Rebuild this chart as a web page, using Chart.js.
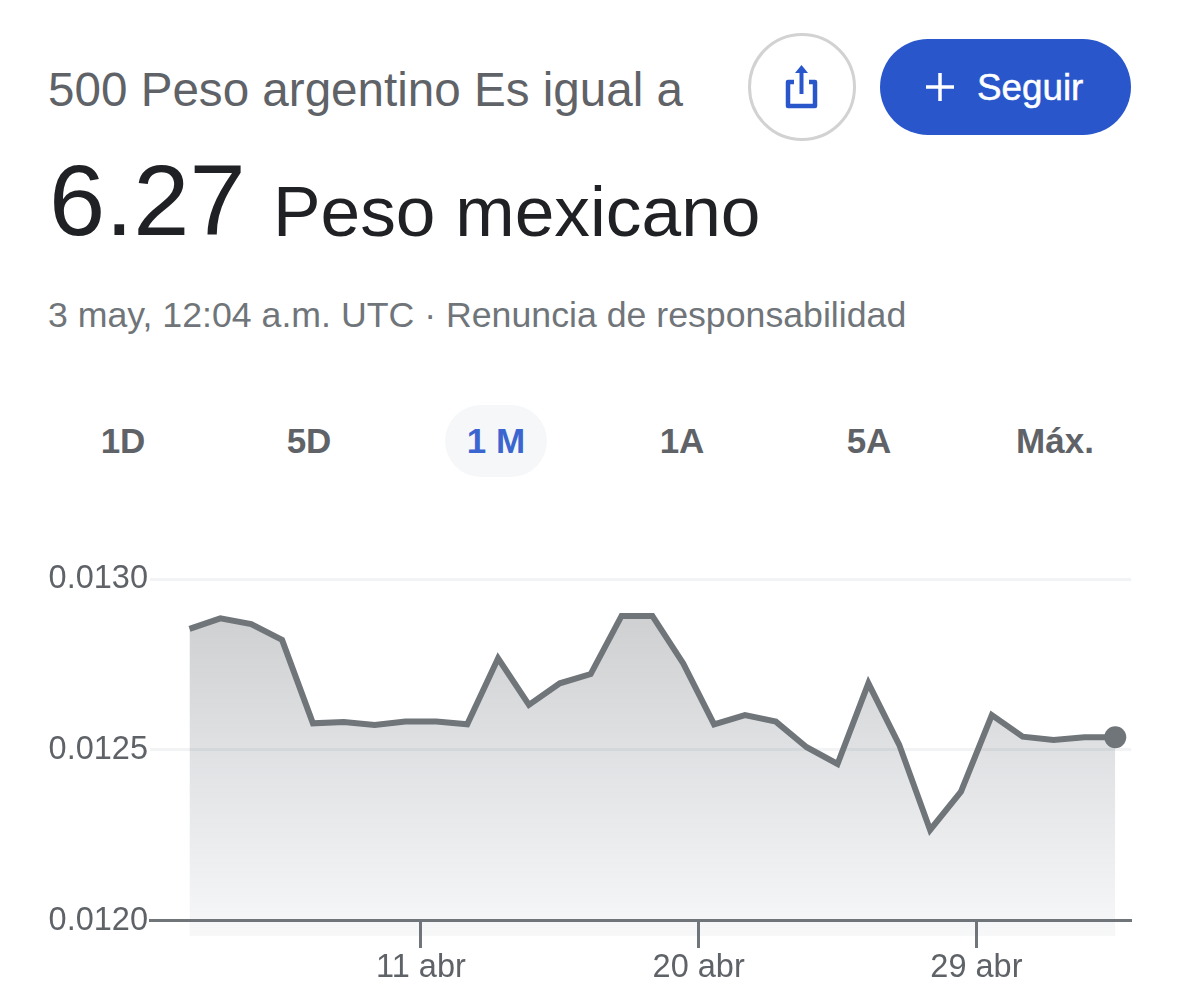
<!DOCTYPE html>
<html>
<head>
<meta charset="utf-8">
<title>500 Peso argentino</title>
<script src="https://cdn.jsdelivr.net/npm/chart.js@4"></script>
<style>
  html, body { margin: 0; padding: 0; background: #fff; }
  body { width: 1179px; height: 1007px; position: relative; overflow: hidden; font-family: "Liberation Sans", sans-serif; }
  .txt { position: absolute; white-space: nowrap; line-height: 1; }
  .tab { position: absolute; top: 424px; transform: translateX(-50%); font-size: 35px; line-height: 34px; font-weight: bold; color: #5f6368; white-space: nowrap; }
  #pill { position: absolute; left: 445px; top: 405px; width: 102px; height: 72px; border-radius: 36px; background: #f6f7f9; }
  #share { position: absolute; left: 748px; top: 33px; width: 108px; height: 108px; box-sizing: border-box; border: 3px solid #d2d2d2; border-radius: 50%; }
  #follow { position: absolute; left: 880px; top: 39px; width: 251px; height: 96px; border-radius: 48px; background: #2957cb; color: #fff; }
  #cv { position: absolute; left: 0; top: 540px; }
</style>
</head>
<body>
<div class="txt" style="left:48px;top:66px;font-size:47.6px;color:#5f6368">500 Peso argentino Es igual a</div>
<div class="txt" style="left:49px;top:150px;font-size:101px;color:#202124">6.27</div>
<div class="txt" style="left:273px;top:176px;font-size:71.3px;color:#202124">Peso mexicano</div>
<div class="txt" style="left:48px;top:298px;font-size:35.7px;color:#70757a">3 may, 12:04 a.m. UTC · Renuncia de responsabilidad</div>

<div id="share">
  <svg width="102" height="102" viewBox="0 0 102 102" style="position:absolute;left:0;top:0">
    <path d="M43 46 H37 V70 H64 V46 H58" fill="none" stroke="#2957cb" stroke-width="4.5" stroke-linejoin="round"/>
    <path d="M50.5 58 V34" fill="none" stroke="#2957cb" stroke-width="4"/>
    <path d="M44 37 L50.5 29 L57 37 Z" fill="#2957cb"/>
  </svg>
</div>
<div id="follow">
  <svg width="40" height="40" viewBox="0 0 40 40" style="position:absolute;left:40px;top:28px">
    <path d="M20 6 V34 M6 20 H34" stroke="#fff" stroke-width="3.5" fill="none"/>
  </svg>
  <div class="txt" style="left:97px;top:31px;font-size:36.8px;-webkit-text-stroke:0.5px #fff">Seguir</div>
</div>

<div id="pill"></div>
<div class="tab" style="left:123px">1D</div>
<div class="tab" style="left:309px">5D</div>
<div class="tab" style="left:496px;color:#3c66cf">1 M</div>
<div class="tab" style="left:682px">1A</div>
<div class="tab" style="left:869px">5A</div>
<div class="tab" style="left:1055px">Máx.</div>

<canvas id="cv" width="1179" height="460"></canvas>

<script>
// day of the period for each sample (day 11 = 11 abr, past 30 = mayo)
var days = [3.5, 4.5, 5.5, 6.5, 7.5, 8.5, 9.5, 10.5, 11.5, 12.5, 13.5, 14.5, 15.5, 16.5, 17.5, 18.5,
  19.5, 20.5, 21.5, 22.5, 23.5, 24.5, 25.5, 26.5, 27.5, 28.5, 29.5, 30.5, 31.5, 32.5, 33.5];
var rates = [0.012854, 0.012885, 0.012868, 0.012822, 0.012578, 0.012582, 0.012573, 0.012583,
  0.012583, 0.012575, 0.012768, 0.012632, 0.012695, 0.012722, 0.012892, 0.012892,
  0.012753, 0.012575, 0.012602, 0.012583, 0.012508, 0.012459, 0.012695, 0.012515,
  0.012266, 0.012378, 0.012602, 0.012539, 0.012529, 0.012537, 0.012537];
var tickDays = [11, 20, 29];
var tickLabels = ['11 abr', '20 abr', '29 abr'];
var yTicks = [0.0120, 0.0125, 0.0130];

var points = days.map(function (d, i) { return { x: d, y: rates[i] }; });
var gris = '#70757a';

var myChart = new Chart(document.getElementById('cv'), {
  type: 'line',
  data: {
    datasets: [{
      data: points,
      borderColor: gris,
      borderWidth: 6,
      tension: 0,
      borderJoinStyle: 'miter',
      fill: { value: 0.011956 },
      backgroundColor: function (c) {
        var area = c.chart.chartArea;
        if (!area) return 'rgba(112,117,122,0.3)';
        var g = c.chart.ctx.createLinearGradient(0, area.top + 37, 0, area.bottom);
        g.addColorStop(0, 'rgba(95,99,104,0.30)');
        g.addColorStop(1, 'rgba(95,105,125,0.05)');
        return g;
      },
      pointRadius: function (c) { return c.dataIndex === days.length - 1 ? 11 : 0; },
      pointBackgroundColor: gris,
      pointBorderWidth: 0
    }]
  },
  options: {
    responsive: false,
    animation: false,
    layout: { padding: { top: 39, right: 48, left: 0, bottom: 64 } },
    plugins: { legend: { display: false }, title: { display: false }, tooltip: { enabled: false } },
    scales: {
      x: {
        type: 'linear',
        position: { y: 0.0120 },
        min: 2.22,
        max: 34.01,
        afterBuildTicks: function (s) { s.ticks = tickDays.map(function (v) { return { value: v }; }); },
        border: { color: gris, width: 3 },
        grid: { drawOnChartArea: false, tickColor: gris, tickWidth: 3, tickLength: 26 },
        ticks: {
          autoSkip: false,
          maxRotation: 0,
          padding: 2,
          color: '#5f6368',
          font: { family: 'Liberation Sans', size: 32.5 },
          callback: function (v) { return tickLabels[tickDays.indexOf(v)]; }
        }
      },
      y: {
        min: 0.011956,
        max: 0.0130,
        afterFit: function (s) { s.width = 150; },
        afterBuildTicks: function (s) { s.ticks = yTicks.map(function (v) { return { value: v }; }); },
        border: { display: false },
        grid: { color: '#f1f3f4', lineWidth: 3, drawTicks: false },
        ticks: {
          padding: 2,
          color: '#5f6368',
          font: { family: 'Liberation Sans', size: 32.5 },
          callback: function (v) { return v.toFixed(4); }
        }
      }
    }
  }
});
</script>
</body>
</html>
